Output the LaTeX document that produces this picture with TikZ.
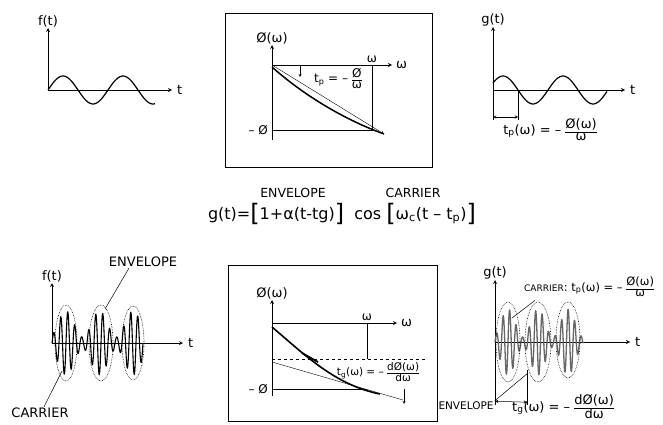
\documentclass[tikz,border=0pt]{standalone}
\usepackage{fontspec}
\setmainfont{DejaVu Sans}
\usepackage{tikz}
\usetikzlibrary{arrows, positioning, calc}

\newcommand{\hfrac}[2]{\ensuremath{\vcenter{\hbox{\renewcommand{\arraystretch}{0.85}\begin{tabular}{@{}c@{}}#1\\\hline #2\end{tabular}}}}}
\newcommand{\tallbr}[1]{\raisebox{-2.5pt}{\fontsize{24}{24}\selectfont #1}}

\begin{document}
\begin{tikzpicture}[
    x=1pt, y=-1pt,
    axis/.style={->, >=stealth, line width=0.8pt},
    guide/.style={line width=0.5pt},
    wave/.style={line width=1.2pt},
    carrier/.style={line width=1.1pt, line join=round},
    envdot/.style={densely dotted, line width=0.6pt},
    frame/.style={draw, line width=0.8pt},
    lbl/.style={font=\fontsize{13}{14}\selectfont, inner sep=1pt},
    small/.style={font=\fontsize{12}{13}\selectfont, inner sep=1pt},
    note/.style={font=\fontsize{10.5}{11}\selectfont, inner sep=1pt},
    eqn/.style={font=\fontsize{16}{18}\selectfont, inner sep=1pt},
    pointer/.style={line width=0.5pt},
    dim/.style={<->, >=stealth, line width=0.5pt}
]
\useasboundingbox (0,0) rectangle (663,425);

% Top left: f(t)
\coordinate (oA) at (48,90);
\coordinate (yA) at (48,28);
\coordinate (xA) at (172,90);
\draw[axis] (oA) -- (yA);
\draw[axis] (oA) -- (xA);
\node[lbl, above] (fA) at (yA) {f(t)};
\node[lbl, right=4pt of xA] (tA) {t};
\draw[wave] plot[domain=48:155, samples=80, smooth] (\x, {90-14*sin(6*(\x-48))});

% Top middle: phase curve
\draw[frame] (225,13) rectangle (432,167);
\coordinate (oB) at (272,65);
\coordinate (yB) at (272,45);
\coordinate (bB) at (272,140);
\coordinate (xB) at (392,65);
\coordinate (wmB) at (372,65);
\coordinate (pmB) at (372,130);
\coordinate (lB) at (272,130);
\coordinate (eB) at (384,134);
\draw[axis] (bB) -- (yB);
\draw[axis] (oB) -- (xB);
\node[lbl, above] (phiB) at (yB) {Ø(ω)};
\node[lbl, right=3pt of xB] (wB) {ω};
\node[small, above=1pt of wmB] (wtopB) {ω};
\draw[guide] (wmB) -- (pmB) -- (lB);
\node[small, left=3pt of lB] (negB) {– Ø};
\draw[->, >=stealth, line width=0.4pt] (oB) -- (eB);
\draw[line width=1.5pt] (272,67) .. controls (300,92) and (340,118) .. (eB);
\node[small] (tpB) at (338,80) {t\textsubscript{p} = – \hfrac{Ø}{ω}};
\coordinate (kB) at (300,66);
\coordinate (k2B) at (300,77);
\draw[->, >=stealth, line width=0.4pt] (kB) -- (k2B);

% Top right: g(t)
\coordinate (oC) at (493,90);
\coordinate (yC) at (493,27);
\coordinate (bC) at (493,120);
\coordinate (xC) at (625,90);
\coordinate (pC) at (518,90);
\coordinate (qC) at (518,120);
\draw[axis] (bC) -- (yC);
\draw[axis] (oC) -- (xC);
\node[lbl, above] (gC) at (yC) {g(t)};
\node[lbl, right=4pt of xC] (tC) {t};
\draw[wave] plot[domain=493:607, samples=80, smooth] (\x, {90-14*sin(6*(\x-488))});
\draw[guide] (pC) -- (qC);
\draw[dim] ($(oC)!0.9!(bC)$) -- ($(pC)!0.9!(qC)$);
\node[lbl] (tpC) at (550,131) {t\textsubscript{p}(ω) = – \hfrac{Ø(ω)}{ω}};

% Middle: equation
\node[note, font=\fontsize{12.5}{13}\selectfont] (envM) at (293,193) {ENVELOPE};
\node[note, font=\fontsize{12.5}{13}\selectfont] (carM) at (413,193) {CARRIER};
\node[eqn] (eqM) at (342,214) {g(t)=\tallbr{[}1+α(t-tg)\tallbr{]}\ \ cos \tallbr{[}ω\textsubscript{c}(t – t\textsubscript{p})\tallbr{]}};

% Bottom left: modulated f(t)
\coordinate (oD) at (52,343);
\coordinate (yD) at (52,283);
\coordinate (xD) at (183,343);
\draw[axis] (oD) -- (yD);
\draw[axis] (oD) -- (xD);
\node[lbl, above] (fD) at (yD) {f(t)};
\node[lbl, right=4pt of xD] (tD) {t};
\draw[carrier] plot[domain=52:143, samples=300] (\x, {343-(19+13*cos((\x-66)/33.5*360))*sin((\x-52)/7*360)});
\draw[envdot] (66,343) ellipse (11 and 38);
\draw[envdot] (101,343) ellipse (12 and 38);
\draw[envdot] (133,343) ellipse (11 and 37);
\node[lbl] (envD) at (143,262) {ENVELOPE};
\node[lbl] (carD) at (40,413) {CARRIER};
\coordinate (envTipD) at (105,309);
\coordinate (carTipD) at (62,371);
\draw[pointer] ($(envD.south)+(-14,0)$) -- (envTipD);
\draw[pointer] ($(carD.north)+(4,0)$) -- (carTipD);

% Bottom middle: group delay
\draw[frame] (228,265) rectangle (437,421);
\coordinate (oE) at (272,323);
\coordinate (yE) at (272,300);
\coordinate (bE) at (272,396);
\coordinate (xE) at (397,323);
\coordinate (wmE) at (367,323);
\coordinate (dmE) at (367,359);
\coordinate (lE) at (272,389);
\coordinate (pmE) at (367,389);
\coordinate (dlE) at (272,359);
\coordinate (drE) at (425,359);
\draw[axis] (bE) -- (yE);
\draw[axis] (oE) -- (xE);
\node[lbl, above] (phiE) at (yE) {Ø(ω)};
\node[lbl, right=3pt of xE] (wE) {ω};
\node[small, above=1pt of wmE] (wtopE) {ω};
\draw[guide] (wmE) -- (dmE);
\draw[guide, dashed] (dlE) -- (drE);
\draw[guide] (lE) -- (pmE);
\node[small, left=3pt of lE] (negE) {– Ø};
\draw[line width=1.6pt] (272,327) .. controls (305,355) and (335,385) .. (380,394);
\draw[line width=0.4pt] (272,362) -- (403,400);
\draw[line width=1.8pt] (302,353) -- (318,362);
\node[small, font=\fontsize{10.5}{11}\selectfont] (tgE) at (378,373) {t\textsubscript{g}(ω) = – \hfrac{dØ(ω)}{dω}};
\coordinate (kE) at (404,389);
\coordinate (k2E) at (404,404);
\draw[->, >=stealth, line width=0.4pt] (kE) -- (k2E);

% Bottom right: delayed g(t)
\coordinate (oF) at (495,342);
\coordinate (yF) at (495,280);
\coordinate (bF) at (495,405);
\coordinate (xF) at (630,342);
\coordinate (pF) at (527,370);
\coordinate (qF) at (527,405);
\draw[axis] (bF) -- (yF);
\draw[axis] (oF) -- (xF);
\node[lbl, above] (gF) at (yF) {g(t)};
\node[lbl, right=4pt of xF] (tF) {t};
\draw[carrier, black!60, line width=1.3pt] plot[domain=495:583, samples=300] (\x, {342-(19+14*cos(12*(\x-508)))*sin((\x-495)/6.5*360)});
\draw[envdot] (508,342) ellipse (12 and 40);
\draw[envdot] (538,342) ellipse (13 and 40);
\draw[envdot] (568,340) ellipse (12 and 38);
\draw[guide] (pF) -- (qF);
\draw[dim] ($(oF)!0.94!(bF)$) -- ($(pF)!0.92!(qF)$);
\node[small, font=\fontsize{11.5}{12}\selectfont, anchor=west] (carF) at (523,288) {{\fontsize{9}{9}\selectfont CARRIER}: t\textsubscript{p}(ω) = – \hfrac{Ø(ω)}{ω}};
\node[note] (envF) at (466,406) {ENVELOPE};
\node[lbl] (tgF) at (563,408) {t\textsubscript{g}(ω) = – \hfrac{dØ(ω)}{dω}};
\coordinate (carTipF) at (512,318);
\coordinate (envTipF) at (528,373);
\draw[pointer] ($(carF.south west)+(12,0)$) -- (carTipF);
\draw[pointer] (envF.north east) -- (envTipF);

\end{tikzpicture}
\end{document}
